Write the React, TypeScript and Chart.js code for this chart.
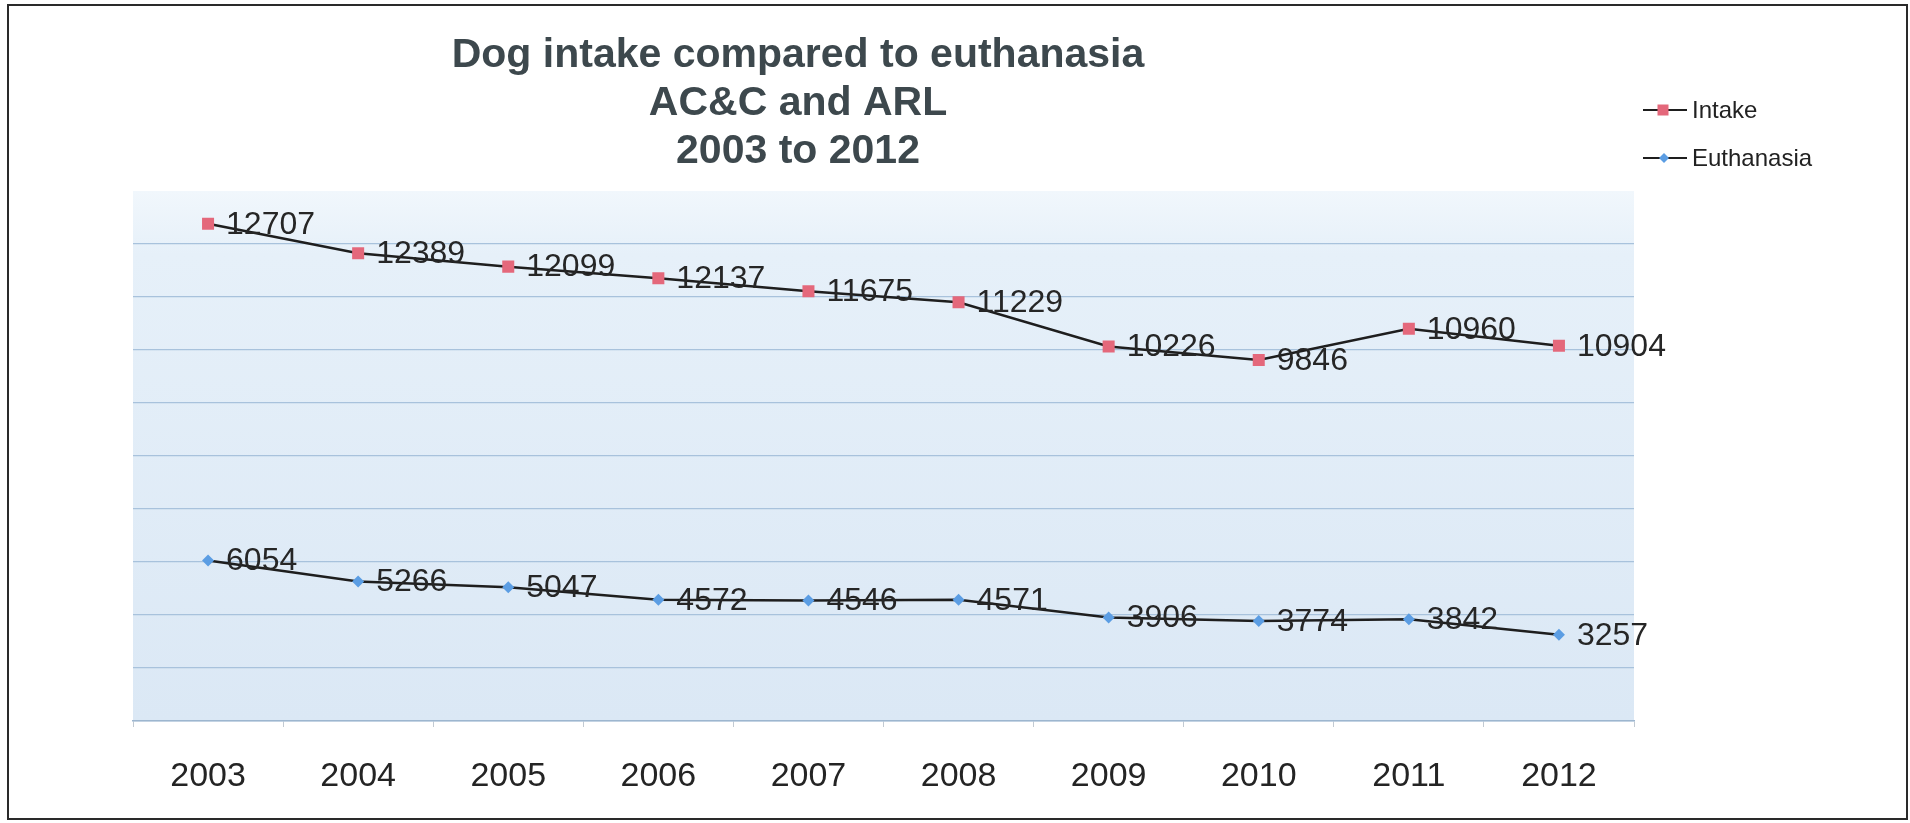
import React, { useEffect, useRef } from 'react';
import { Chart, registerables } from 'chart.js';

Chart.register(...registerables);

// ---- data ----
const years = ['2003', '2004', '2005', '2006', '2007', '2008', '2009', '2010', '2011', '2012'];
const intake = [12707, 12389, 12099, 12137, 11675, 11229, 10226, 9846, 10960, 10904];
const euthanasia = [6054, 5266, 5047, 4572, 4546, 4571, 3906, 3774, 3842, 3257];
const seriesNames = ['Intake', 'Euthanasia'];
const titleLines = ['Dog intake compared to euthanasia', 'AC&C and ARL', '2003 to 2012'];
const yMin = 0;
const yMax = 20000;
const yStep = 2000;

const FONT = '"Liberation Sans", Arial, Helvetica, sans-serif';
const INTAKE_COLOR = '#e4687b';
const EUTH_COLOR = '#5b9de3';
const LINE_COLOR = '#1e1e1e';

export default function App() {
  const ref = useRef<HTMLCanvasElement>(null);

  useEffect(() => {
    const canvas = ref.current;
    if (!canvas) return;

    const bgPlugin = {
      id: 'bgPlugin',
      beforeDraw(chart: any) {
        const { ctx, chartArea: a } = chart;
        ctx.save();
        ctx.fillStyle = '#ffffff';
        ctx.fillRect(0, 0, chart.width, chart.height);
        const g = ctx.createLinearGradient(0, a.top, 0, a.bottom);
        g.addColorStop(0, '#f1f7fc');
        g.addColorStop(0.12, '#e6f0f9');
        g.addColorStop(1, '#dbe8f5');
        ctx.fillStyle = g;
        ctx.fillRect(a.left, a.top, a.right - a.left, a.bottom - a.top);
        ctx.restore();
      },
    };

    const valuePlugin = {
      id: 'valuePlugin',
      afterDatasetsDraw(chart: any) {
        const { ctx } = chart;
        ctx.save();
        ctx.font = `32px ${FONT}`;
        ctx.fillStyle = '#262626';
        ctx.textAlign = 'left';
        ctx.textBaseline = 'middle';
        chart.data.datasets.forEach((ds: any, i: number) => {
          const meta = chart.getDatasetMeta(i);
          meta.data.forEach((pt: any, j: number) => {
            ctx.fillText(String(ds.data[j]), pt.x + 18, pt.y + 1);
          });
        });
        ctx.restore();
      },
    };

    const decorPlugin = {
      id: 'decorPlugin',
      afterDraw(chart: any) {
        const { ctx } = chart;
        ctx.save();
        // title
        ctx.font = `bold 41px ${FONT}`;
        ctx.fillStyle = '#3d484d';
        ctx.textAlign = 'center';
        ctx.textBaseline = 'middle';
        const tys = [56, 104, 152];
        titleLines.forEach((t, i) => ctx.fillText(t, 798, tys[i]));

        // legend
        const lys = [110, 158];
        seriesNames.forEach((name, i) => {
          const y = lys[i];
          ctx.strokeStyle = LINE_COLOR;
          ctx.lineWidth = 2;
          ctx.beginPath();
          ctx.moveTo(1643, y);
          ctx.lineTo(1687, y);
          ctx.stroke();
          if (i === 0) {
            ctx.fillStyle = INTAKE_COLOR;
            ctx.fillRect(1663 - 5.5, y - 5.5, 11, 11);
          } else {
            ctx.fillStyle = EUTH_COLOR;
            ctx.beginPath();
            ctx.moveTo(1664, y - 5);
            ctx.lineTo(1669, y);
            ctx.lineTo(1664, y + 5);
            ctx.lineTo(1659, y);
            ctx.closePath();
            ctx.fill();
          }
          ctx.font = `24px ${FONT}`;
          ctx.fillStyle = '#222222';
          ctx.textAlign = 'left';
          ctx.textBaseline = 'middle';
          ctx.fillText(name, 1692, y + 1);
        });

        // outer frame
        ctx.strokeStyle = '#2a2a2a';
        ctx.lineWidth = 2;
        ctx.strokeRect(8, 5, 1899, 814);
        ctx.restore();
      },
    };

    const chart = new Chart(canvas, {
      type: 'line',
      data: {
        labels: years,
        datasets: [
          {
            label: seriesNames[1],
            data: euthanasia,
            borderColor: LINE_COLOR,
            borderWidth: 2.5,
            pointStyle: 'rectRot',
            pointRadius: 6,
            pointBackgroundColor: EUTH_COLOR,
            pointBorderColor: EUTH_COLOR,
            pointBorderWidth: 0,
            fill: false,
            tension: 0,
          },
          {
            label: seriesNames[0],
            data: intake,
            borderColor: LINE_COLOR,
            borderWidth: 2.5,
            pointStyle: 'rect',
            pointRadius: 8.5,
            pointBackgroundColor: INTAKE_COLOR,
            pointBorderColor: INTAKE_COLOR,
            pointBorderWidth: 0,
            fill: false,
            tension: 0,
          },
        ],
      },
      options: {
        responsive: false,
        animation: false,
        devicePixelRatio: 1,
        layout: { padding: { left: 133, right: 276, top: 191, bottom: 2 } },
        plugins: {
          legend: { display: false },
          title: { display: false },
          tooltip: { enabled: false },
        },
        scales: {
          x: {
            offset: true,
            grid: {
              drawOnChartArea: false,
              drawTicks: true,
              tickLength: 6,
              color: '#c2cad2',
              offset: true,
            },
            border: { display: true, color: '#9db6cf', width: 1.5 },
            ticks: {
              font: { family: FONT, size: 34 },
              color: '#242424',
              padding: 29,
              maxRotation: 0,
              autoSkip: false,
            },
            afterFit(scale: any) {
              scale.height = 100;
            },
          },
          y: {
            stacked: true,
            min: yMin,
            max: yMax,
            ticks: { display: false, stepSize: yStep },
            grid: {
              drawTicks: false,
              color: (c: any) => (c.tick && c.tick.value === yMax ? 'rgba(0,0,0,0)' : '#a8c2dc'),
              lineWidth: 1.2,
            },
            border: { display: false },
            afterFit(scale: any) {
              scale.width = 0;
            },
          },
        },
      },
      plugins: [bgPlugin, valuePlugin, decorPlugin],
    });

    return () => chart.destroy();
  }, []);

  return (
    <div style={{ position: 'fixed', left: 0, top: 0, width: 1910, height: 823, background: '#fff' }}>
      <canvas ref={ref} width={1910} height={823} style={{ width: 1910, height: 823, display: 'block' }} />
    </div>
  );
}
